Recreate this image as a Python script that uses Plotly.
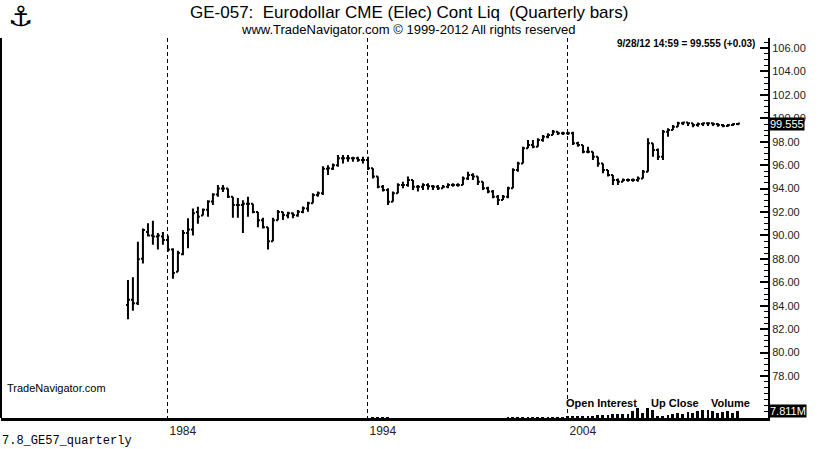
import pandas as pd
import plotly.graph_objects as go

# quarterly bars, 1982 Q1 .. 2012 Q3
quarters = pd.date_range("1982-01-01", periods=123, freq="QS")

opens = [84.06, 84.5, 84.2, 88.0, 90.3, 90.0, 89.9, 89.9, 89.6, 88.8,
         86.9, 88.4, 90.2, 90.5, 92.0, 91.7, 92.2, 92.9, 93.5, 94.0,
         94.0, 93.3, 92.6, 92.6, 92.7, 92.7, 92.0, 91.3, 90.7, 89.5,
         91.3, 92.0, 91.7, 91.9, 91.7, 92.0, 92.3, 92.74, 93.45, 93.6,
         95.7, 95.7, 96.0, 96.58, 96.58, 96.58, 96.58, 96.44, 96.44, 95.73,
         95.02, 94.16, 93.88, 92.88, 93.59, 94.31, 94.31, 94.73, 94.16, 94.16,
         94.3, 94.2, 94.16, 94.02, 94.16, 94.3, 94.3, 94.3, 94.87, 95.16,
         95.02, 94.59, 94.02, 93.74, 93.31, 93.02, 93.31, 94.02, 95.58, 96.15,
         97.44, 97.72, 97.58, 98.15, 98.43, 98.57, 98.86, 98.72, 98.72, 98.72,
         97.86, 97.72, 97.15, 97.15, 96.72, 96.15, 95.58, 95.16, 94.73, 94.59,
         94.73, 94.73, 94.73, 94.87, 95.44, 97.86, 97.29, 96.72, 98.86, 99.0,
         99.28, 99.57, 99.63, 99.57, 99.43, 99.51, 99.57, 99.57, 99.51, 99.43,
         99.34, 99.43, 99.51]
highs = [86.2, 86.43, 89.47, 90.6, 91.03, 91.25, 90.2, 90.3, 90.0, 88.9,
         88.7, 90.46, 91.46, 92.3, 92.45, 92.3, 93.0, 93.6, 94.3, 94.3,
         94.0, 93.3, 93.2, 93.0, 93.3, 92.7, 92.0, 91.5, 90.7, 91.5,
         92.17, 92.03, 92.03, 91.95, 92.17, 92.46, 92.88, 93.59, 93.74, 95.9,
         96.0, 96.15, 96.87, 96.87, 96.87, 96.72, 96.72, 96.72, 96.72, 95.73,
         95.02, 94.31, 94.02, 93.74, 94.45, 94.59, 95.02, 94.73, 94.31, 94.45,
         94.45, 94.3, 94.3, 94.3, 94.45, 94.45, 94.45, 95.02, 95.44, 95.3,
         95.02, 94.59, 94.16, 93.88, 93.45, 93.45, 94.16, 95.73, 96.3, 97.58,
         98.15, 98.15, 98.29, 98.57, 98.72, 99.0, 98.86, 98.86, 98.86, 98.86,
         98.0, 97.72, 97.58, 97.15, 96.72, 96.15, 95.58, 95.16, 94.87, 94.87,
         94.87, 94.87, 95.02, 95.58, 98.29, 97.86, 97.43, 99.0, 99.14, 99.43,
         99.71, 99.71, 99.63, 99.57, 99.63, 99.63, 99.63, 99.63, 99.57, 99.51,
         99.51, 99.57, 99.6]
lows = [82.84, 83.58, 84.06, 87.6, 89.9, 89.2, 88.8, 89.2, 88.6, 86.3,
        86.9, 88.3, 88.9, 90.0, 91.0, 91.7, 91.6, 92.6, 93.3, 93.7,
        93.2, 91.5, 91.5, 90.2, 91.6, 91.9, 90.7, 90.6, 88.8, 89.5,
        91.3, 91.32, 91.46, 91.46, 91.6, 91.89, 92.03, 92.74, 93.31, 93.45,
        95.16, 95.59, 95.87, 96.15, 96.3, 96.3, 96.3, 96.15, 95.59, 94.87,
        94.02, 93.74, 92.6, 92.88, 93.59, 94.02, 94.16, 93.88, 93.74, 93.88,
        93.9, 93.88, 93.88, 94.02, 94.02, 94.16, 94.16, 94.3, 94.73, 94.73,
        94.3, 93.88, 93.59, 93.17, 92.6, 93.02, 93.17, 94.02, 95.44, 96.15,
        97.44, 97.44, 97.58, 98.0, 98.29, 98.57, 98.57, 98.57, 98.57, 97.72,
        97.58, 97.01, 97.01, 96.44, 95.87, 95.3, 95.02, 94.3, 94.3, 94.59,
        94.59, 94.59, 94.59, 94.87, 95.44, 96.72, 96.44, 96.44, 98.43, 99.0,
        99.28, 99.43, 99.34, 99.23, 99.28, 99.34, 99.34, 99.34, 99.28, 99.23,
        99.28, 99.34, 99.4]
closes = [84.5, 84.2, 87.96, 90.46, 90.0, 89.9, 90.0, 89.6, 88.8, 86.8,
          88.5, 90.2, 90.5, 91.9, 91.6, 92.2, 92.9, 93.5, 94.0, 94.0,
          93.3, 92.6, 92.6, 92.7, 92.7, 92.0, 91.3, 90.7, 89.5, 91.3,
          92.0, 91.74, 91.9, 91.74, 92.03, 92.31, 92.74, 93.45, 93.6, 95.7,
          95.73, 96.0, 96.58, 96.58, 96.58, 96.58, 96.44, 96.44, 95.73, 95.02,
          94.16, 93.88, 92.88, 93.59, 94.31, 94.31, 94.73, 94.16, 94.16, 94.31,
          94.2, 94.16, 94.02, 94.16, 94.3, 94.3, 94.3, 94.87, 95.16, 95.02,
          94.59, 94.02, 93.74, 93.31, 93.02, 93.31, 94.02, 95.58, 96.15, 97.44,
          97.72, 97.58, 98.15, 98.43, 98.57, 98.86, 98.72, 98.72, 98.72, 97.86,
          97.72, 97.15, 97.15, 96.72, 96.15, 95.58, 95.16, 94.73, 94.59, 94.73,
          94.73, 94.73, 94.87, 95.44, 97.86, 97.29, 96.72, 98.86, 99.0, 99.28,
          99.57, 99.63, 99.57, 99.43, 99.51, 99.57, 99.57, 99.51, 99.43, 99.34,
          99.43, 99.51, 99.555]

# volume in millions (bottom pane)
volume = [0] * 49 + [0.6, 0.6, 0.6, 0.6] + [0] * 23 + [1.0] * 12 + \
         [2.0, 2.0, 2.0, 2.5, 2.5, 2.5, 3.5, 3.5, 3.5, 4.5, 4.5, 5.0, 5.0,
          8.0, 11.0, 6.0, 11.0, 9.0, 1.5, 1.5, 3.0,
          4.5, 6.0, 5.0, 7.0, 6.0, 8.0, 9.0, 9.0, 8.0, 6.0, 7.0, 8.0, 6.0, 7.811]

price_ticks = [78, 80, 82, 84, 86, 88, 90, 92, 94, 96, 98, 100, 102, 104, 106]
year_ticks = ["1984-01-01", "1994-01-01", "2004-01-01"]
year_labels = ["1984", "1994", "2004"]

# plot area in pixels
L, R, T, B = 1, 768, 38, 418


def px(x):
    return (x - L) / (R - L)


def py(y):
    return (B - y) / (B - T)


fig = go.Figure()

fig.add_trace(go.Ohlc(
    x=quarters, open=opens, high=highs, low=lows, close=closes,
    increasing=dict(line=dict(color="black", width=2)),
    decreasing=dict(line=dict(color="black", width=2)),
    tickwidth=0.4, showlegend=False, hoverinfo="skip"
))

fig.add_trace(go.Bar(
    x=quarters, y=volume, yaxis="y2", marker_color="black",
    marker_line_width=0, width=36 * 86400000, showlegend=False,
    hoverinfo="skip"
))

day = pd.Timedelta(days=1)
x0 = quarters[0] - 2319 * day
x1 = quarters[0] + 11688 * day

fig.update_layout(
    width=819, height=449,
    margin=dict(l=L, r=819 - R, t=T, b=449 - B),
    paper_bgcolor="white", plot_bgcolor="white",
    font=dict(family="Arial, Liberation Sans, sans-serif", color="#111"),
    bargap=0,
    hovermode=False,
    xaxis=dict(
        range=[x0, x1], rangeslider=dict(visible=False),
        tickmode="array", tickvals=year_ticks, ticktext=year_labels,
        ticklabelposition="outside right", ticks="",
        tickfont=dict(size=12, color="#222"),
        showgrid=True, gridcolor="black", gridwidth=1, griddash="4px,3px",
        showline=True, linecolor="black", linewidth=3, zeroline=False,
        fixedrange=True,
    ),
    yaxis=dict(
        side="right", range=[78 - 42 / 11.714, 106 + 10 / 11.714],
        tickmode="array", tickvals=price_ticks,
        ticktext=["%.2f" % v for v in price_ticks],
        ticks="inside", ticklen=8, tickwidth=2, tickcolor="black",
        minor=dict(tickmode="linear", tick0=0, dtick=0.5, ticks="inside",
                   ticklen=4, tickwidth=1, tickcolor="black"),
        tickfont=dict(size=11, color="#222"),
        showgrid=False, zeroline=False,
        showline=True, linecolor="black", linewidth=2,
    ),
    yaxis2=dict(overlaying="y", side="right", range=[0, 424], visible=False),
)

# left border
fig.add_shape(type="line", xref="paper", yref="paper", x0=0, x1=0, y0=0, y1=1,
              line=dict(color="black", width=2))

notes = [
    dict(x=px(20), y=py(16), text="⚓", font=dict(size=28, color="black",
         family="DejaVu Sans"), xanchor="center", yanchor="middle"),
    dict(x=px(409), y=py(13), text="GE-057:  Eurodollar CME (Elec) Cont Liq  (Quarterly bars)",
         font=dict(size=17, color="black"),
         xanchor="center", yanchor="middle"),
    dict(x=px(408), y=py(30), text="www.TradeNavigator.com © 1999-2012 All rights reserved",
         font=dict(size=13, color="black"),
         xanchor="center", yanchor="middle"),
    dict(x=px(757), y=py(43), text="<b>9/28/12 14:59 = 99.555 (+0.03)</b>",
         font=dict(size=10, color="black"), xanchor="right", yanchor="middle"),
    dict(x=px(5), y=py(388), text="TradeNavigator.com",
         font=dict(size=11, color="black"), xanchor="left", yanchor="middle"),
    dict(x=px(0), y=py(441), text="7.8_GE57_quarterly",
         font=dict(size=12, family="Liberation Mono, Courier New, monospace", color="black"),
         xanchor="left", yanchor="middle"),
    dict(x=px(564), y=py(403), text="<b>Open Interest</b>",
         font=dict(size=11, color="black"), xanchor="left", yanchor="middle"),
    dict(x=px(649), y=py(403), text="<b>Up Close</b>",
         font=dict(size=11, color="black"), xanchor="left", yanchor="middle"),
    dict(x=px(709), y=py(403), text="<b>Volume</b>",
         font=dict(size=11, color="black"), xanchor="left", yanchor="middle"),
]
for n in notes:
    fig.add_annotation(xref="paper", yref="paper", showarrow=False, **n)

# last price and last volume boxes on the right axis
fig.add_annotation(xref="paper", yref="y", x=1, y=closes[-1], text="99.555",
                   showarrow=False, xanchor="left", yanchor="middle",
                   bgcolor="black", font=dict(size=11, color="white"),
                   borderpad=0, xshift=1)
fig.add_annotation(xref="paper", yref="y2", x=1, y=volume[-1], text="7.811M",
                   showarrow=False, xanchor="left", yanchor="middle",
                   bgcolor="black", font=dict(size=11, color="white"),
                   borderpad=0, xshift=1)

# the page keeps the browser's default 8px body margin; drop it so the
# 819x449 figure fills the window
fig.write_html("out.html", config={"displayModeBar": False},
               post_script="document.body.style.margin='0';")
